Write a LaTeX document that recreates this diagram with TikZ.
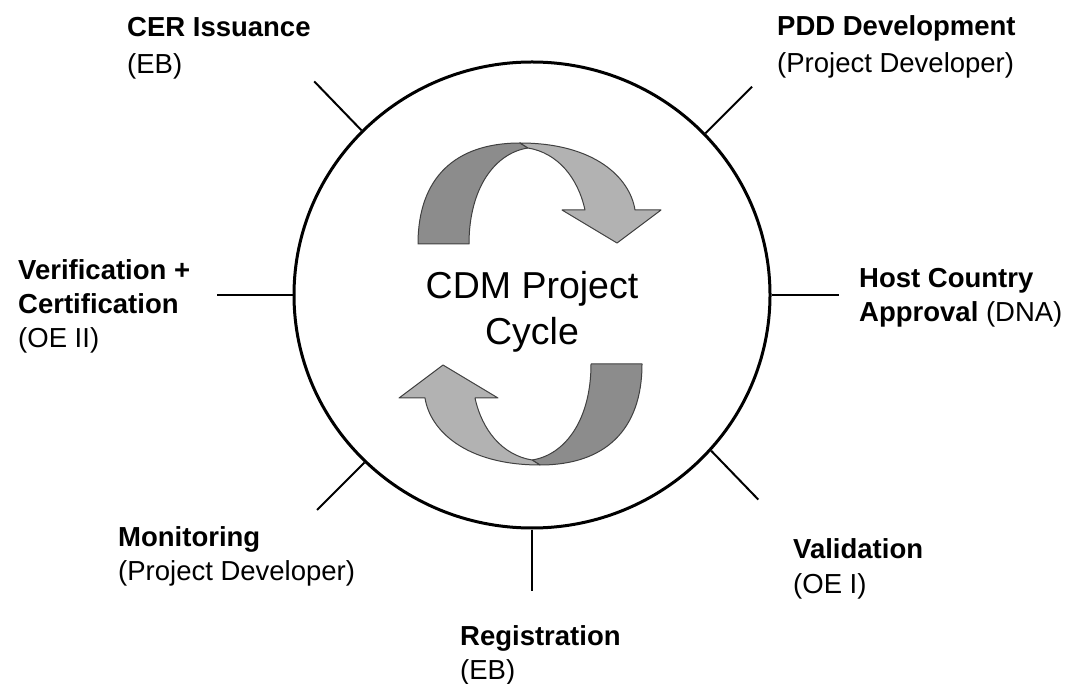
\documentclass[tikz,border=0pt]{standalone}
\usepackage{fontspec}
\setmainfont{Liberation Sans}
\usepackage{tikz}
\usetikzlibrary{shapes.geometric}

\definecolor{ribbondark}{RGB}{140,140,140}
\definecolor{ribbonlight}{RGB}{178,178,178}

\newcommand{\ribbonarrow}{%
\filldraw [band, fill=ribbondark] (418,439) .. controls (418,505) and (455,540) .. (520,540)
  -- (528,535) .. controls (495,530) and (469,495) .. (469,439) -- cycle;
\filldraw [band, fill=ribbonlight] (520,540) .. controls (595,540) and (630,505) .. (635,473)
  -- (661,473) -- (617,440) -- (562,473) -- (585,473)
  .. controls (578,505) and (558,530) .. (528,535) -- cycle;
}

\begin{document}
\begin{tikzpicture}[x=1pt,y=1pt]
\tikzstyle{every node}+=[inner sep=0pt]
\tikzstyle{stage}=[anchor=base west, align=left, font=\fontsize{27.5}{34}\selectfont]
\tikzstyle{tick}=[black, line width=2pt]
\tikzstyle{band}=[draw=black!75, line width=1pt, line join=round]
\useasboundingbox (0,0) rectangle (1070,683);
\node [draw, ellipse, line width=3pt, minimum width=476pt, minimum height=466pt] (cycle) at (532,388) {};
\draw [tick] (cycle.136) -- ++(134:68);
\draw [tick] (cycle.43) -- ++(45:66);
\draw [tick] (cycle.180) -- ++(180:76);
\draw [tick] (cycle.0) -- ++(0:67);
\draw [tick] (cycle.225) -- ++(225:67);
\draw [tick] (cycle.-41) -- ++(-46:68);
\draw [tick] (cycle.270) -- ++(270:61);
\ribbonarrow
\begin{scope}[rotate around={180:(530,379)}]
\ribbonarrow
\end{scope}
% base anchor sits on the last line
\node [font=\fontsize{37.5}{46}\selectfont, align=center, anchor=base] (title) at (532,338) {CDM Project\\Cycle};
\node [stage] (cer) at (127,609) {\textbf{CER Issuance}\\[3pt](EB)};
\node [stage] (pdd) at (777,610) {\textbf{PDD Development}\\[3pt](Project Developer)};
\node [stage] (verif) at (18,335) {\textbf{Verification +}\\\textbf{Certification}\\(OE II)};
\node [stage] (host) at (859,361) {\textbf{Host Country}\\\textbf{Approval} (DNA)};
\node [stage] (monit) at (118,103) {\textbf{Monitoring}\\(Project Developer)};
\node [stage] (valid) at (793,90) {\textbf{Validation}\\[1pt](OE I)};
\node [stage] (regis) at (460,4) {\textbf{Registration}\\(EB)};
\end{tikzpicture}
\end{document}
